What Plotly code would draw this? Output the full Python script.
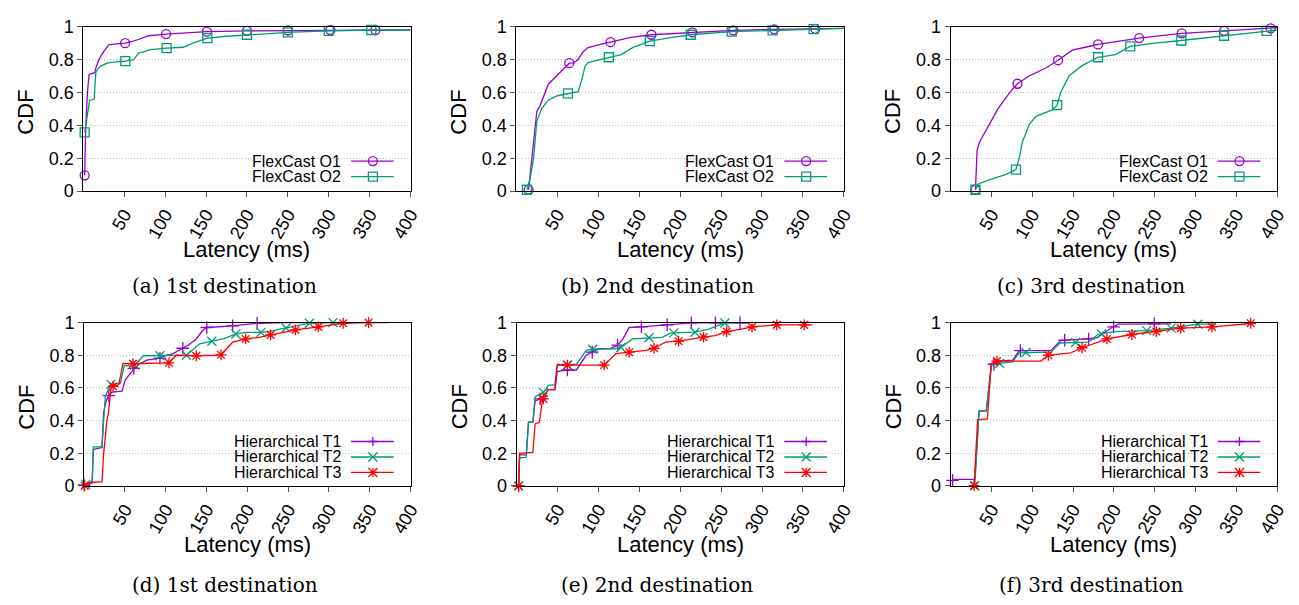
import plotly.graph_objects as go

W, H = 1299, 605

# ---------------- data: latency (ms) vs CDF ----------------
# (a) FlexCast, 1st destination
A_O1_X = [1.6, 3, 5, 7, 10, 13.7, 16, 19, 25, 31, 40, 51, 60, 69.5, 80, 101, 120, 151, 200, 250, 302, 357, 400]
A_O1_Y = [0.096, 0.4, 0.6, 0.71, 0.715, 0.72, 0.76, 0.8, 0.85, 0.89, 0.895, 0.9, 0.91, 0.925, 0.945, 0.955, 0.96, 0.97, 0.975, 0.977, 0.98, 0.98, 0.98]
A_O1_MX = [1.6, 51, 101, 151, 200, 250, 302, 357]
A_O1_MY = [0.096, 0.9, 0.955, 0.97, 0.975, 0.977, 0.98, 0.98]
A_O2_X = [1.6, 4.8, 7.7, 10, 13.2, 15.2, 18, 21, 30, 37, 51.3, 61.5, 67.5, 75, 81.5, 101.8, 122, 134, 151.6, 175, 200, 250, 300, 352, 400]
A_O2_Y = [0.357, 0.45, 0.553, 0.555, 0.56, 0.72, 0.745, 0.76, 0.78, 0.785, 0.79, 0.8, 0.84, 0.848, 0.86, 0.87, 0.875, 0.9, 0.93, 0.942, 0.951, 0.965, 0.975, 0.98, 0.98]
A_O2_MX = [1.6, 51.3, 101.8, 151.6, 200, 250, 300, 352]
A_O2_MY = [0.357, 0.79, 0.87, 0.93, 0.951, 0.965, 0.975, 0.98]

# (b) FlexCast, 2nd destination
B_O1_X = [14.9, 18, 22, 25, 29, 35, 39, 49, 64.6, 70, 75.5, 81, 87.6, 100, 115, 140, 165, 215, 265, 315, 365, 400]
B_O1_Y = [0.008, 0.15, 0.35, 0.484, 0.52, 0.598, 0.65, 0.7, 0.778, 0.78, 0.8, 0.845, 0.873, 0.89, 0.906, 0.935, 0.951, 0.965, 0.978, 0.984, 0.987, 0.99]
B_O1_MX = [14.9, 64.6, 115, 165, 215, 265, 315, 365]
B_O1_MY = [0.008, 0.778, 0.906, 0.951, 0.965, 0.978, 0.984, 0.987]
B_O2_X = [12.9, 17, 21, 25, 31, 39, 50, 63, 70, 75.5, 80, 84, 87.6, 101.7, 113, 128, 142, 163, 190, 213, 263, 313, 363, 400]
B_O2_Y = [0.008, 0.08, 0.2, 0.425, 0.504, 0.553, 0.58, 0.594, 0.597, 0.605, 0.68, 0.76, 0.782, 0.8, 0.814, 0.83, 0.873, 0.912, 0.935, 0.951, 0.97, 0.978, 0.985, 0.99]
B_O2_MX = [12.9, 63, 113, 163, 213, 263, 313, 363]
B_O2_MY = [0.008, 0.594, 0.814, 0.912, 0.951, 0.97, 0.978, 0.985]

# (c) FlexCast, 3rd destination
C_O1_X = [30.4, 32.4, 35.6, 47.8, 57.9, 72, 81.8, 96, 116.6, 131.6, 149, 165, 180.6, 231, 283, 335, 392, 400]
C_O1_Y = [0.008, 0.25, 0.3, 0.406, 0.5, 0.598, 0.653, 0.7, 0.749, 0.796, 0.857, 0.875, 0.892, 0.931, 0.959, 0.975, 0.99, 0.995]
C_O1_MX = [30.4, 81.8, 131.6, 180.6, 231, 283, 335, 392]
C_O1_MY = [0.008, 0.653, 0.796, 0.892, 0.931, 0.959, 0.975, 0.99]
C_O2_X = [30.4, 33.6, 48, 68, 80, 84, 88, 96.4, 104.5, 124.7, 130.4, 134.8, 145, 161, 180.6, 201.6, 220, 250, 282.6, 335, 387, 400]
C_O2_Y = [0.008, 0.043, 0.07, 0.102, 0.131, 0.2, 0.3, 0.406, 0.455, 0.494, 0.523, 0.6, 0.7, 0.763, 0.814, 0.83, 0.88, 0.9, 0.916, 0.945, 0.975, 0.98]
C_O2_MX = [30.4, 80, 130.4, 180.6, 220, 282.6, 335, 387]
C_O2_MY = [0.008, 0.131, 0.523, 0.814, 0.88, 0.916, 0.945, 0.975]

# (d) Hierarchical, 1st destination
D_T1_X = [0, 5, 10, 11.3, 13, 20, 22, 24, 27, 30.3, 34.4, 46.5, 50.5, 58.6, 61, 68.7, 76.8, 93, 101, 109, 121, 127, 137.5, 145, 150.4, 182, 212, 250, 330]
D_T1_Y = [0.006, 0.01, 0.02, 0.22, 0.225, 0.23, 0.235, 0.45, 0.52, 0.553, 0.575, 0.58, 0.65, 0.7, 0.72, 0.75, 0.77, 0.783, 0.8, 0.81, 0.843, 0.86, 0.9, 0.95, 0.97, 0.98, 0.996, 1.0, 1.0]
D_T1_MX = [0, 30.3, 61, 93, 121, 150.4, 182, 212]
D_T1_MY = [0.006, 0.553, 0.72, 0.783, 0.843, 0.97, 0.98, 0.996]
D_T2_X = [2, 5, 10, 11.3, 20, 22, 26, 33, 44.5, 49.3, 56.6, 62, 72.8, 93, 113, 125.4, 141.5, 156.5, 170, 186, 198, 216.7, 226, 247.5, 276, 305, 320]
D_T2_Y = [0.01, 0.015, 0.03, 0.24, 0.24, 0.245, 0.55, 0.622, 0.63, 0.738, 0.735, 0.74, 0.797, 0.797, 0.8, 0.8, 0.87, 0.886, 0.9, 0.93, 0.94, 0.94, 0.945, 0.967, 0.996, 1.0, 1.0]
D_T2_MX = [2, 33, 62, 93, 125.4, 156.5, 186, 216.7, 247.5, 276, 305]
D_T2_MY = [0.01, 0.622, 0.74, 0.797, 0.8, 0.886, 0.93, 0.94, 0.967, 0.996, 1.0]
D_T3_X = [0.8, 5, 22, 24, 28, 30, 33, 35.6, 42.5, 47.7, 60, 99, 104, 113, 137.5, 160, 167.8, 182, 198, 214, 228.5, 259, 287, 317.4, 348.6, 372]
D_T3_Y = [0.002, 0.02, 0.026, 0.2, 0.4, 0.45, 0.6, 0.61, 0.62, 0.75, 0.748, 0.75, 0.754, 0.8, 0.797, 0.8, 0.803, 0.88, 0.9, 0.91, 0.925, 0.955, 0.974, 0.996, 1.0, 1.0]
D_T3_MX = [0.8, 35.6, 60, 104, 137.5, 167.8, 198, 228.5, 259, 287, 317.4, 348.6]
D_T3_MY = [0.002, 0.61, 0.748, 0.754, 0.797, 0.803, 0.9, 0.925, 0.955, 0.974, 0.996, 1.0]

# (e) Hierarchical, 2nd destination
E_T1_X = [2.4, 3.6, 11.7, 14.5, 19.8, 22.6, 28.7, 33, 38.7, 46.8, 49.6, 62, 73, 85, 92.4, 101, 115, 123.5, 130, 137.6, 152.5, 184, 213.5, 273, 285]
E_T1_Y = [0, 0.19, 0.19, 0.39, 0.39, 0.52, 0.533, 0.55, 0.59, 0.59, 0.7, 0.71, 0.71, 0.8, 0.819, 0.84, 0.842, 0.862, 0.9, 0.97, 0.974, 0.986, 0.998, 0.998, 0.998]
E_T1_MX = [2.4, 28.7, 62, 92.4, 123.5, 152.5, 184, 213.5, 243, 273]
E_T1_MY = [0, 0.533, 0.71, 0.819, 0.862, 0.974, 0.986, 0.998, 0.998, 0.998]
E_T2_X = [2.4, 3.6, 11.7, 14.5, 19.8, 22.6, 32.7, 38.7, 46.8, 49.6, 62, 73, 85, 93, 119.5, 127.5, 141.6, 161.8, 178, 188, 192, 218, 235, 254.6, 270]
E_T2_Y = [0, 0.173, 0.175, 0.39, 0.39, 0.547, 0.573, 0.616, 0.62, 0.738, 0.74, 0.745, 0.83, 0.837, 0.84, 0.848, 0.9, 0.907, 0.91, 0.935, 0.937, 0.941, 0.96, 0.998, 0.998]
E_T2_MX = [2.4, 32.7, 62, 93, 127.5, 161.8, 192, 218, 254.6]
E_T2_MY = [0, 0.573, 0.74, 0.837, 0.848, 0.907, 0.937, 0.941, 0.998]
E_T3_X = [2.4, 3.6, 19.8, 22.6, 27.8, 30.7, 32.7, 38.7, 46.8, 49.6, 62, 97, 107, 121.5, 137.6, 158, 168, 182, 198, 214, 228.4, 242.5, 256.7, 274.8, 287.7, 318, 351.5, 361.6]
E_T3_Y = [0, 0.2, 0.205, 0.38, 0.39, 0.5, 0.533, 0.59, 0.59, 0.745, 0.74, 0.74, 0.74, 0.81, 0.819, 0.83, 0.843, 0.88, 0.886, 0.9, 0.911, 0.92, 0.945, 0.96, 0.974, 0.986, 0.986, 0.986]
E_T3_MX = [2.4, 32.7, 62, 107, 137.6, 168, 198, 228.4, 256.7, 287.7, 318, 351.5]
E_T3_MY = [0, 0.533, 0.74, 0.74, 0.819, 0.843, 0.886, 0.911, 0.945, 0.974, 0.986, 0.986]

# (f) Hierarchical, 3rd destination
F_T1_X = [2.4, 5, 29.6, 31.6, 34.8, 43.7, 49.8, 53, 58, 76, 84, 85.4, 122.7, 134.8, 139.7, 169, 180, 197.6, 199.6, 205.7, 249.4, 270]
F_T1_Y = [0.035, 0.04, 0.041, 0.2, 0.459, 0.46, 0.74, 0.745, 0.765, 0.77, 0.828, 0.829, 0.83, 0.89, 0.893, 0.9, 0.91, 0.97, 0.974, 0.99, 0.992, 0.992]
F_T1_MX = [2.4, 53, 85.4, 139.7, 169, 199.6, 249.4]
F_T1_MY = [0.035, 0.745, 0.829, 0.893, 0.9, 0.974, 0.992]
F_T2_X = [29.6, 31.6, 34.8, 43.7, 49.8, 60, 76, 84, 92.3, 122.7, 134, 153, 169, 181, 184.6, 200, 240, 270, 302.8, 325]
F_T2_Y = [0.002, 0.2, 0.46, 0.46, 0.74, 0.75, 0.76, 0.815, 0.817, 0.82, 0.875, 0.878, 0.88, 0.93, 0.931, 0.945, 0.951, 0.966, 0.99, 0.99]
F_T2_MX = [29.6, 60, 92.3, 153, 184.6, 240, 270, 302.8]
F_T2_MY = [0.002, 0.75, 0.817, 0.878, 0.931, 0.951, 0.966, 0.99]
F_T3_X = [28.7, 31.6, 33, 45, 49.8, 56.7, 110.5, 118.6, 119.8, 147, 159, 161, 189.5, 191.5, 222, 252, 281.8, 320, 367.6, 372]
F_T3_Y = [0.002, 0.3, 0.405, 0.41, 0.75, 0.764, 0.765, 0.797, 0.8, 0.815, 0.845, 0.846, 0.896, 0.9, 0.927, 0.945, 0.966, 0.974, 0.996, 0.996]
F_T3_MX = [28.7, 56.7, 119.8, 161, 191.5, 222, 252, 281.8, 320, 367.6]
F_T3_MY = [0.002, 0.764, 0.8, 0.846, 0.9, 0.927, 0.945, 0.966, 0.974, 0.996]

X_TICKS = [50, 100, 150, 200, 250, 300, 350, 400]
Y_TICKS = [0, 0.2, 0.4, 0.6, 0.8, 1]
Y_TICK_TEXT = ["0", "0.2", "0.4", "0.6", "0.8", "1"]
CAPTIONS = ["(a) 1st destination", "(b) 2nd destination", "(c) 3rd destination",
            "(d) 1st destination", "(e) 2nd destination", "(f) 3rd destination"]

PURPLE = "#9400d3"
GREEN = "#009e73"
RED = "#ff0000"
SANS = "Liberation Sans, Arial, sans-serif"
SERIF = "DejaVu Serif, serif"

S_O1 = ("FlexCast O1", PURPLE, "circle-open")
S_O2 = ("FlexCast O2", GREEN, "square-open")
S_T1 = ("Hierarchical T1", PURPLE, "cross-thin-open")
S_T2 = ("Hierarchical T2", GREEN, "x-thin-open")
S_T3 = ("Hierarchical T3", RED, "asterisk-open")

# pixel boxes (left, top, right, bottom) of each plot area
BOXES = [(76, 9, 406, 179), (512.7, 9, 843, 179), (950.7, 9, 1280, 179),
         (76.7, 315, 406, 484), (513, 315, 843, 484), (950.7, 315, 1280, 484)]

PANELS = [
    [(S_O1, A_O1_X, A_O1_Y, A_O1_MX, A_O1_MY), (S_O2, A_O2_X, A_O2_Y, A_O2_MX, A_O2_MY)],
    [(S_O1, B_O1_X, B_O1_Y, B_O1_MX, B_O1_MY), (S_O2, B_O2_X, B_O2_Y, B_O2_MX, B_O2_MY)],
    [(S_O1, C_O1_X, C_O1_Y, C_O1_MX, C_O1_MY), (S_O2, C_O2_X, C_O2_Y, C_O2_MX, C_O2_MY)],
    [(S_T1, D_T1_X, D_T1_Y, D_T1_MX, D_T1_MY), (S_T2, D_T2_X, D_T2_Y, D_T2_MX, D_T2_MY),
     (S_T3, D_T3_X, D_T3_Y, D_T3_MX, D_T3_MY)],
    [(S_T1, E_T1_X, E_T1_Y, E_T1_MX, E_T1_MY), (S_T2, E_T2_X, E_T2_Y, E_T2_MX, E_T2_MY),
     (S_T3, E_T3_X, E_T3_Y, E_T3_MX, E_T3_MY)],
    [(S_T1, F_T1_X, F_T1_Y, F_T1_MX, F_T1_MY), (S_T2, F_T2_X, F_T2_Y, F_T2_MX, F_T2_MY),
     (S_T3, F_T3_X, F_T3_Y, F_T3_MX, F_T3_MY)],
]


def px(x):
    return x / W


def py(y):
    return 1 - y / H


def marker_shape(symbol, cx, cy, color):
    r = 4.5
    base = dict(xref="paper", yref="paper", xsizemode="pixel", ysizemode="pixel",
                xanchor=px(cx), yanchor=py(cy), line=dict(color=color, width=1.3),
                layer="above")
    if symbol == "circle-open":
        return dict(type="circle", x0=-r, x1=r, y0=-r, y1=r, **base)
    if symbol == "square-open":
        return dict(type="rect", x0=-r, x1=r, y0=-r, y1=r, **base)
    if symbol == "cross-thin-open":
        path = f"M{-r},0 L{r},0 M0,{-r} L0,{r}"
    elif symbol == "x-thin-open":
        path = f"M{-r},{-r} L{r},{r} M{-r},{r} L{r},{-r}"
    else:
        path = f"M{-r},0 L{r},0 M0,{-r} L0,{r} M{-r},{-r} L{r},{r} M{-r},{r} L{r},{-r}"
    return dict(type="path", path=path, **base)


fig = go.Figure()
layout = dict(width=W, height=H, margin=dict(l=0, r=0, t=0, b=0),
              paper_bgcolor="white", plot_bgcolor="white", showlegend=False,
              font=dict(family=SANS, color="black"))
annotations = []
shapes = []

for i, (box, series) in enumerate(zip(BOXES, PANELS)):
    s = "" if i == 0 else str(i + 1)
    l, t, r, b = box
    layout["xaxis" + s] = dict(
        domain=[px(l), px(r)], anchor="y" + s, range=[0, 400],
        tickvals=X_TICKS, ticktext=[str(v) for v in X_TICKS], tickangle=-60,
        ticks="outside", ticklen=5, tickcolor="#555", tickwidth=1,
        showline=True, linecolor="black", linewidth=1, mirror=True,
        showgrid=False, zeroline=False, tickfont=dict(size=18, family=SANS),
        fixedrange=True)
    layout["yaxis" + s] = dict(
        domain=[py(b), py(t)], anchor="x" + s, range=[0, 1],
        tickvals=Y_TICKS, ticktext=Y_TICK_TEXT,
        ticks="outside", ticklen=5, tickcolor="#555", tickwidth=1,
        showline=True, linecolor="black", linewidth=1, mirror=True,
        showgrid=True, gridcolor="#bdbdbd", griddash="1px,2px", gridwidth=1,
        zeroline=False, tickfont=dict(size=18, family=SANS), fixedrange=True)

    for (name, color, symbol), xs, ys, mxs, mys in series:
        fig.add_trace(go.Scatter(x=xs, y=ys, mode="lines", name=name,
                                 line=dict(color=color, width=1.3),
                                 xaxis="x" + s, yaxis="y" + s, cliponaxis=False,
                                 hoverinfo="skip"))
        fig.add_trace(go.Scatter(x=mxs, y=mys, mode="markers", name=name,
                                 marker=dict(symbol=symbol, size=9, color=color,
                                             line=dict(color=color, width=1.3)),
                                 xaxis="x" + s, yaxis="y" + s, cliponaxis=False,
                                 hoverinfo="skip"))

    # axis titles and caption
    annotations.append(dict(text="CDF", xref="paper", yref="paper", x=px(l - 58),
                            y=py((t + b) / 2 + 3), textangle=-90, showarrow=False,
                            xanchor="center", yanchor="middle",
                            font=dict(size=22, family=SANS)))
    annotations.append(dict(text="Latency (ms)", xref="paper", yref="paper",
                            x=px((l + r) / 2), y=py(b + 60), showarrow=False,
                            xanchor="center", yanchor="middle",
                            font=dict(size=22, family=SANS)))
    cap_y = 277 if i < 3 else 586
    annotations.append(dict(text=CAPTIONS[i], xref="paper", yref="paper",
                            x=px((l + r) / 2 - 23), y=py(cap_y), showarrow=False,
                            xanchor="center", yanchor="middle",
                            font=dict(size=20, family=SERIF)))

    # key (gnuplot style: text right-aligned, sample to the right)
    n = len(series)
    if n == 2:
        rows = [b - 31, b - 15]
        box_l = r - 160
        box_t, box_b = b - 40, b - 7
    else:
        rows = [b - 46, b - 30, b - 14]
        box_l = r - 203
        box_t, box_b = b - 56, b - 6
    shapes.append(dict(type="rect", xref="paper", yref="paper", x0=px(box_l),
                       x1=px(r - 2), y0=py(box_b), y1=py(box_t),
                       fillcolor="white", line=dict(width=0), layer="between"))
    for k, ((name, color, symbol), *_rest) in enumerate(series):
        yy = rows[k]
        annotations.append(dict(text=name, xref="paper", yref="paper",
                                x=px(r - 68), y=py(yy), showarrow=False,
                                xanchor="right", yanchor="middle",
                                font=dict(size=16, family=SANS)))
        shapes.append(dict(type="line", xref="paper", yref="paper",
                           x0=px(r - 60), x1=px(r - 17), y0=py(yy), y1=py(yy),
                           line=dict(color=color, width=1.3), layer="above"))
        shapes.append(marker_shape(symbol, r - 38, yy, color))

layout["annotations"] = annotations
layout["shapes"] = shapes
fig.update_layout(**layout)
fig.write_html("out.html")
